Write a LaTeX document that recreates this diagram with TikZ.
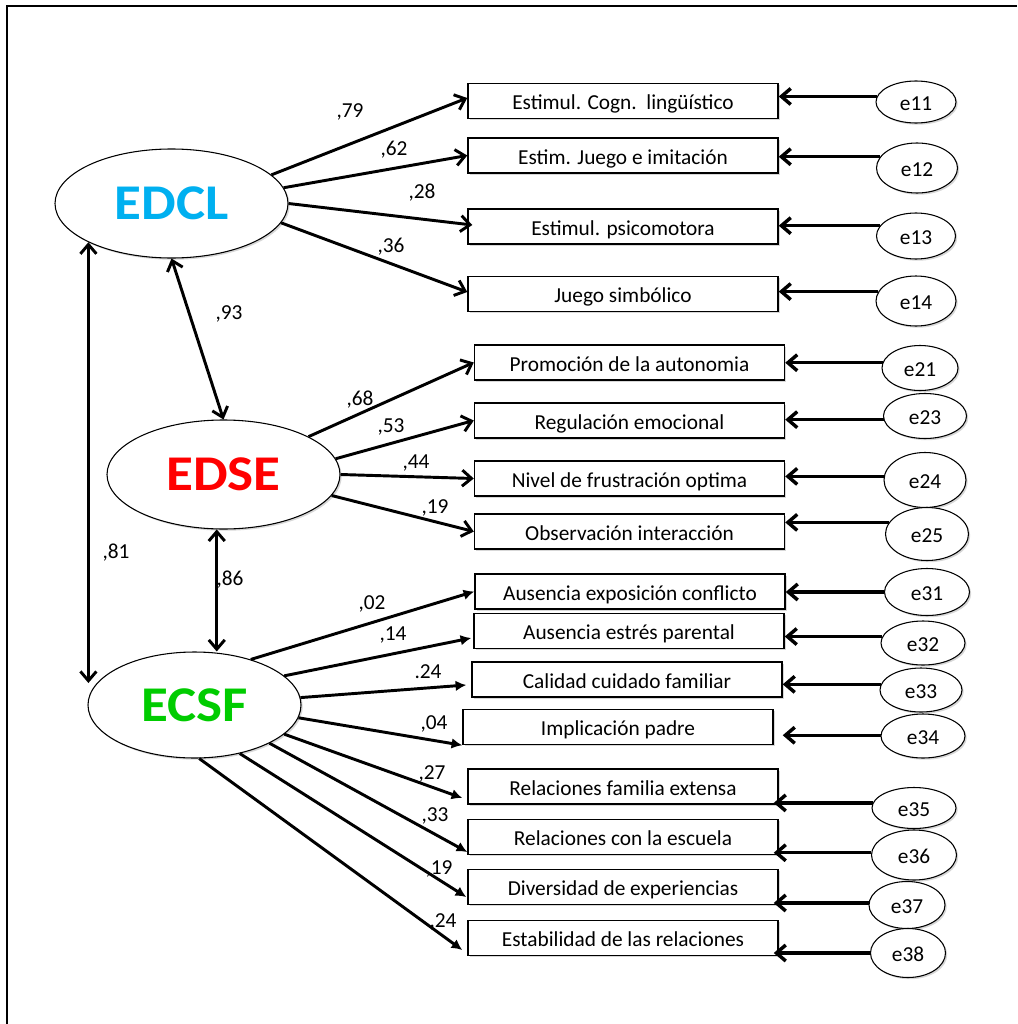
\documentclass[tikz,border=0pt]{standalone}
\usepackage{fontspec}
\setmainfont{Carlito}
\newfontfamily\latfont{Carlito}[FakeStretch=1.1]
\usetikzlibrary{arrows.meta,shapes.geometric,shadows,calc}
\definecolor{cblue}{RGB}{0,176,240}
\definecolor{cred}{RGB}{255,0,0}
\definecolor{cgreen}{RGB}{0,204,0}
\begin{document}
\begin{tikzpicture}[x=0.75pt,y=-0.75pt,
  sh/.style={drop shadow={shadow xshift=1.3pt,shadow yshift=-1.3pt,fill=black!35,opacity=0.45}},
  lat/.style={ellipse,draw,line width=0.8pt,inner sep=0pt,fill=white,sh,
    font=\latfont\bfseries\fontsize{37.5}{40}\selectfont},
  obs/.style={rectangle,draw,line width=1.1pt,fill=white,sh,inner sep=0pt,
    text height=13pt,text depth=0pt,
    minimum width=232.5pt,minimum height=26.25pt,font=\fontsize{16}{18}\selectfont},
  err/.style={ellipse,draw,line width=0.8pt,fill=white,sh,inner sep=0pt,
    text height=12pt,text depth=0pt,
    font=\fontsize{16}{18}\selectfont},
  lbl/.style={inner sep=0pt,font=\fontsize{16}{18}\selectfont},
  ld/.style={-{Straight Barb[length=7pt,width=12pt]},line width=2.2pt},
  ldf/.style={-{Latex[length=8pt,width=8pt]},line width=2.2pt},
  cov/.style={{Straight Barb[length=7pt,width=12pt]}-{Straight Barb[length=7pt,width=12pt]},line width=2.2pt},
  ea/.style={-{Straight Barb[length=7pt,width=12pt]},line width=2.6pt}
]
\useasboundingbox (0,0) rectangle (1017,1024);
\draw[line width=2pt] (1017,6) -- (7,6) -- (7,1024);

% latent variables
\node[lat,minimum width=174.75pt,minimum height=81.75pt,text=cblue] (EDCL) at (171.5,203.5) {EDCL};
\node[lat,minimum width=174.75pt,minimum height=81.75pt,text=cred] (EDSE) at (223.5,474.5) {EDSE};
\node[lat,minimum width=159.75pt,minimum height=79.5pt,text=cgreen] (ECSF) at (194.5,705) {ECSF};

% observed variables
\node[obs] (b1) at (623,101) {Estimul. Cogn.\ \ lingüístico};
\node[obs] (b2) at (623,155.5) {Estim. Juego e imitación};
\node[obs] (b3) at (623,226.5) {Estimul. psicomotora};
\node[obs] (b4) at (623,294) {Juego simbólico};
\node[obs] (b5) at (629.5,362.5) {Promoción de la autonomia};
\node[obs] (b6) at (629.5,420.5) {Regulación emocional};
\node[obs] (b7) at (629.5,478.5) {Nivel de frustración optima};
\node[obs] (b8) at (629.5,531.5) {Observación interacción};
\node[obs] (b9) at (630,591.5) {Ausencia exposición conflicto};
\node[obs] (b10) at (629,631) {Ausencia estrés parental};
\node[obs] (b11) at (627,679.5) {Calidad cuidado familiar};
\node[obs] (b12) at (618,727) {Implicación padre};
\node[obs] (b13) at (623,786.5) {Relaciones familia extensa};
\node[obs] (b14) at (623,837) {Relaciones con la escuela};
\node[obs] (b15) at (623,887) {Diversidad de experiencias};
\node[obs] (b16) at (623,938) {Estabilidad de las relaciones};

% error terms
\node[err,minimum width=60pt,minimum height=31.5pt] (e11) at (916,102) {e11};
\node[err,minimum width=60.75pt,minimum height=37.5pt] (e12) at (917,168) {e12};
\node[err,minimum width=59.25pt,minimum height=34.5pt] (e13) at (916,236) {e13};
\node[err,minimum width=60pt,minimum height=37.5pt] (e14) at (916,301) {e14};
\node[err,minimum width=57pt,minimum height=33.75pt] (e21) at (920,368) {e21};
\node[err,minimum width=62.25pt,minimum height=33.75pt] (e23) at (925,416) {e23};
\node[err,minimum width=61.5pt,minimum height=41.25pt] (e24) at (925,480) {e24};
\node[err,minimum width=62.25pt,minimum height=39.75pt] (e25) at (927,534) {e25};
\node[err,minimum width=63.75pt,minimum height=35.25pt] (e31) at (927,592) {e31};
\node[err,minimum width=63pt,minimum height=33pt] (e32) at (923,643) {e32};
\node[err,minimum width=61.5pt,minimum height=33pt] (e33) at (921,690) {e33};
\node[err,minimum width=63pt,minimum height=33pt] (e34) at (923,736) {e34};
\node[err,minimum width=63pt,minimum height=30.75pt] (e35) at (914,808) {e35};
\node[err,minimum width=63.75pt,minimum height=37.5pt] (e36) at (914,855) {e36};
\node[err,minimum width=57pt,minimum height=35.25pt] (e37) at (907,905) {e37};
\node[err,minimum width=56.25pt,minimum height=36.75pt] (e38) at (908,953) {e38};

% error arrows
\draw[ea] (e11.172.7) -- (e11.172.7 -| b1.east);
\draw[ea] (e12.163.2) -- (e12.163.2 -| b2.east);
\draw[ea] (e13.164.3) -- (e13.164.3 -| b3.east);
\draw[ea] (e14.166.4) -- (e14.166.4 -| b4.east);
\draw[ea] (e21.172.3) -- (e21.172.3 -| b5.east);
\draw[ea] (e23.185.6) -- (e23.185.6 -| b6.east);
\draw[ea] (e24.175.8) -- (e24.175.8 -| b7.east);
\draw[ea] (e25.163.8) -- (e25.163.8 -| b8.east);
\draw[ea] (e31.180) -- (e31.180 -| b9.east);
\draw[ea] (e32.171.6) -- (e32.171.6 -| b10.east);
\draw[ea] (e33.172.9) -- (e33.172.9 -| b11.east);
\draw[ea] (e34.179) -- ($(e34.179 -| b12.east)+(9,0)$);
\draw[ea] (e35.173) -- ($(e35.173 -| b13.east)+(-5,0)$);
\draw[ea] (e36.177) -- ($(e36.177 -| b14.east)+(-5,0)$);
\draw[ea] (e37.177) -- ($(e37.177 -| b15.east)+(-5,0)$);
\draw[ea] (e38.180) -- ($(e38.180 -| b16.east)+(-5,0)$);

% loadings
\draw[ld] (EDCL.16.9) -- ($(b1.west)+(0,-3)$);
\draw[ld] (EDCL.8.8) -- (b2.west);
\draw[ld] (EDCL.0) -- ($(b3.west)+(5,-1.5)$);
\draw[ld] (EDCL.-10.9) -- ($(b4.west)+(0,-2)$);
\draw[ld] (EDSE.24.8) -- (b5.west);
\draw[ld] (EDSE.8.4) -- (b6.west);
\draw[ld] (EDSE.0) -- (b7.west);
\draw[ld] (EDSE.-11.1) -- (b8.west);
\draw[ldf] (ECSF.39.4) -- (b9.west);
\draw[ldf] (ECSF.18.9) -- ($(b10.west)+(-2,7)$);
\draw[ldf] (ECSF.4.3) -- ($(b11.west)+(-5,5.5)$);
\draw[ldf] (ECSF.-7.4) -- (b12.south west);
\draw[ldf] (ECSF.-18.9) -- ($(b13.west)+(-5,11.5)$);
\draw[ldf] (ECSF.-27.9) -- ($(b14.west)+(0,15)$);
\draw[ldf] (ECSF.-47.2) -- ($(b15.west)+(-1,10)$);
\draw[ldf] (ECSF.-85) -- ($(b16.west)+(-5,12)$);

% covariances
\draw[cov] (EDCL.south) -- (EDSE.north);
\draw[cov] (EDSE.263.2) -- (EDSE.263.2 |- ECSF.north);
\draw[cov,shorten >=16.5pt] (EDCL.205) -- (EDCL.205 |- ECSF.west);

% labels
\node[lbl] (l1) at (350,112) {,79};
\node[lbl] (l2) at (394,150) {,62};
\node[lbl] (l3) at (422,193) {,28};
\node[lbl] (l4) at (391,247) {,36};
\node[lbl] (l5) at (229,314) {,93};
\node[lbl] (l6) at (116,553) {,81};
\node[lbl] (l7) at (360,400) {,68};
\node[lbl] (l8) at (391,427) {,53};
\node[lbl] (l9) at (416,463) {,44};
\node[lbl] (l10) at (435,508) {,19};
\node[lbl] (l11) at (230,580) {,86};
\node[lbl] (l12) at (372,604) {,02};
\node[lbl] (l13) at (393,635) {,14};
\node[lbl] (l14) at (428,672) {.24};
\node[lbl] (l15) at (434,724) {,04};
\node[lbl] (l16) at (432,774) {,27};
\node[lbl] (l17) at (435,816) {,33};
\node[lbl] (l18) at (439,869) {,19};
\node[lbl] (l19) at (443,922) {,24};
\end{tikzpicture}
\end{document}
